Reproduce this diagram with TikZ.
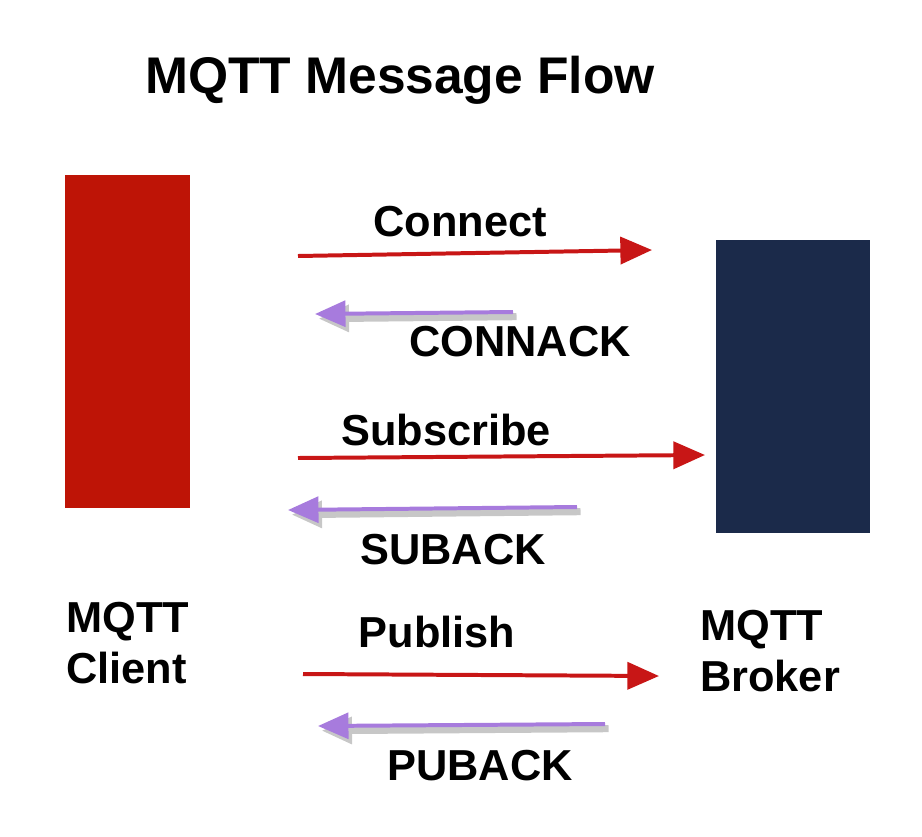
\documentclass[tikz,border=0pt]{standalone}
\usepackage{fontspec}
\setmainfont{Liberation Sans}
\usetikzlibrary{arrows.meta}

\begin{document}
\begin{tikzpicture}[x=0.03cm, y=-0.03cm]
	\definecolor{clientred}{RGB}{190, 20, 6}
	\definecolor{brokernavy}{RGB}{27, 42, 74}
	\definecolor{sendred}{RGB}{200, 22, 22}
	\definecolor{ackpurple}{RGB}{167, 123, 221}

	\tikzset{
		lbl/.style={font=\fontsize{37}{44}\selectfont\bfseries, inner sep=0pt},
		send/.style={sendred, line width=3.4pt, -{Triangle[length=27pt, width=23pt]}},
		ack/.style={ackpurple, line width=3.4pt, -{Triangle[length=26pt, width=22pt]},
			preaction={draw=black!22, line width=6pt, transform canvas={shift={(3pt,-4pt)}}}}
	}

	\useasboundingbox (0,0) rectangle (922,836);

	\node (title) at (400,80) [lbl, font=\fontsize{44}{52}\selectfont\bfseries] {MQTT Message Flow};

	\node (client) at (65,175) [anchor=north west, fill=clientred, minimum width=3.75cm, minimum height=9.99cm, inner sep=0pt] {};
	\node (broker) at (716,240) [anchor=north west, fill=brokernavy, minimum width=4.62cm, minimum height=8.79cm, inner sep=0pt] {};

	\node (clientname) at (66,643) [lbl, anchor=west, align=left] {MQTT\\Client};
	\node (brokername) at (700,651) [lbl, anchor=west, align=left] {MQTT\\Broker};

	% connect
	\coordinate (c1) at (298,256);
	\coordinate (c2) at (652,250);
	\draw[send] (c1) -- (c2);
	\node (connect) at (460,222) [lbl] {Connect};
	\coordinate (ca1) at (513,312);
	\coordinate (ca2) at (315,314);
	\draw[ack] (ca1) -- (ca2);
	\node (connack) at (520,342) [lbl] {CONNACK};

	% subscribe
	\coordinate (s1) at (298,458);
	\coordinate (s2) at (705,455);
	\draw[send] (s1) -- (s2);
	\node (subscribe) at (446,430) [lbl] {Subscribe};
	\coordinate (sa1) at (577,507);
	\coordinate (sa2) at (288,510);
	\draw[ack] (sa1) -- (sa2);
	\node (suback) at (453,550) [lbl] {SUBACK};

	% publish
	\coordinate (p1) at (303,674);
	\coordinate (p2) at (659,676);
	\draw[send] (p1) -- (p2);
	\node (publish) at (437,632) [lbl] {Publish};
	\coordinate (pa1) at (605,724);
	\coordinate (pa2) at (318,726);
	\draw[ack] (pa1) -- (pa2);
	\node (puback) at (480,766) [lbl] {PUBACK};
\end{tikzpicture}
\end{document}
